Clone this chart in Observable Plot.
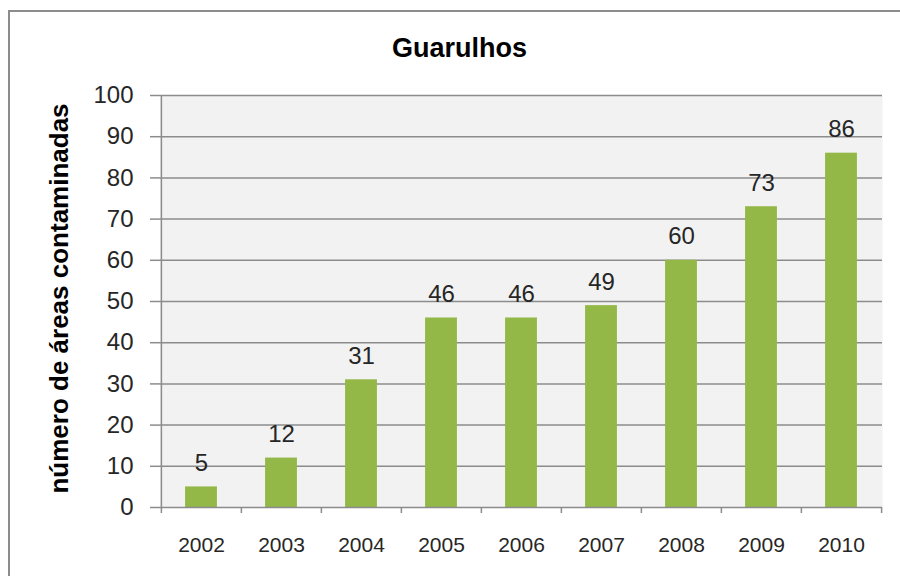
<!DOCTYPE html>
<html><head><meta charset="utf-8">
<script src="https://cdn.jsdelivr.net/npm/d3@7"></script>
<script src="https://cdn.jsdelivr.net/npm/@observablehq/plot@0.6"></script>
<style>
body{margin:0;background:#fff;}
#wrap{position:relative;width:900px;height:576px;overflow:hidden;}
#wrap svg{position:absolute;left:0;top:0;}
#border{position:absolute;left:8px;top:10px;width:1000px;height:1000px;border-left:2px solid #8c8c8c;border-top:2px solid #8c8c8c;pointer-events:none;}
</style></head><body>
<div id="wrap"></div>
<script>
const title = "Guarulhos";
const yLabel = "número de áreas contaminadas";
const years = ["2002","2003","2004","2005","2006","2007","2008","2009","2010"];
const values = [5, 12, 31, 46, 46, 49, 60, 73, 86];
const yTicks = [0, 10, 20, 30, 40, 50, 60, 70, 80, 90, 100];

const data = years.map((year, i) => ({year, value: values[i]}));
const W = 900, H = 576, mL = 160, mR = 18, mT = 95, mB = 69;
const bw = (W - mL - mR) / years.length;
const font = "'Liberation Sans', Arial, sans-serif";
const gridColor = "#8c8c8c";
const textColor = "#262626";

const plot = Plot.plot({
  width: W, height: H,
  marginLeft: mL, marginRight: mR, marginTop: mT, marginBottom: mB,
  style: {fontFamily: font, background: "transparent", overflow: "visible"},
  x: {domain: years, padding: 0, label: null},
  y: {domain: [0, 100], label: null},
  marks: [
    Plot.frame({fill: "#f2f2f2", stroke: "none"}),
    Plot.ruleY(yTicks.slice(1), {stroke: gridColor, strokeWidth: 1.5}),
    Plot.barY(data, {x: "year", y: "value", fill: "#93b848", insetLeft: bw * 0.3, insetRight: bw * 0.3}),
    Plot.ruleY([0], {stroke: gridColor, strokeWidth: 1.5}),
    Plot.ruleX([years[0]], {x: d => d, dx: -bw / 2, stroke: gridColor, strokeWidth: 1.5}),
    Plot.ruleX(years, {x: d => d, y1: 0, y2: 0, dx: -bw / 2, insetBottom: -6, stroke: gridColor, strokeWidth: 1.5}),
    Plot.ruleX([years[years.length - 1]], {x: d => d, y1: 0, y2: 0, dx: bw / 2, insetBottom: -6, stroke: gridColor, strokeWidth: 1.5}),
    Plot.axisY({ticks: yTicks, tickFormat: d => String(d), tickSize: 10, tickPadding: 17, stroke: gridColor, strokeWidth: 1.5, fill: textColor, fontSize: 24, label: null}),
    Plot.axisX({tickSize: 0, tickPadding: 30, fill: textColor, fontSize: 21, label: null}),
    Plot.text(data, {x: "year", y: "value", text: d => String(d.value), lineAnchor: "bottom", dy: -16, fontSize: 24, fill: textColor}),
    Plot.text([title], {text: d => d, frameAnchor: "top", textAnchor: "middle", dx: -62, dy: -39, lineAnchor: "bottom", fontSize: 27, fontWeight: "bold", fill: "#000"}),
    Plot.text([yLabel], {text: d => d, frameAnchor: "left", textAnchor: "middle", rotate: -90, dx: -93, dy: -3, lineAnchor: "bottom", fontSize: 26, fontWeight: "bold", fill: "#000"})
  ]
});
const wrap = document.getElementById("wrap");
wrap.appendChild(plot);
const b = document.createElement("div");
b.id = "border";
wrap.appendChild(b);
</script>
</body></html>
